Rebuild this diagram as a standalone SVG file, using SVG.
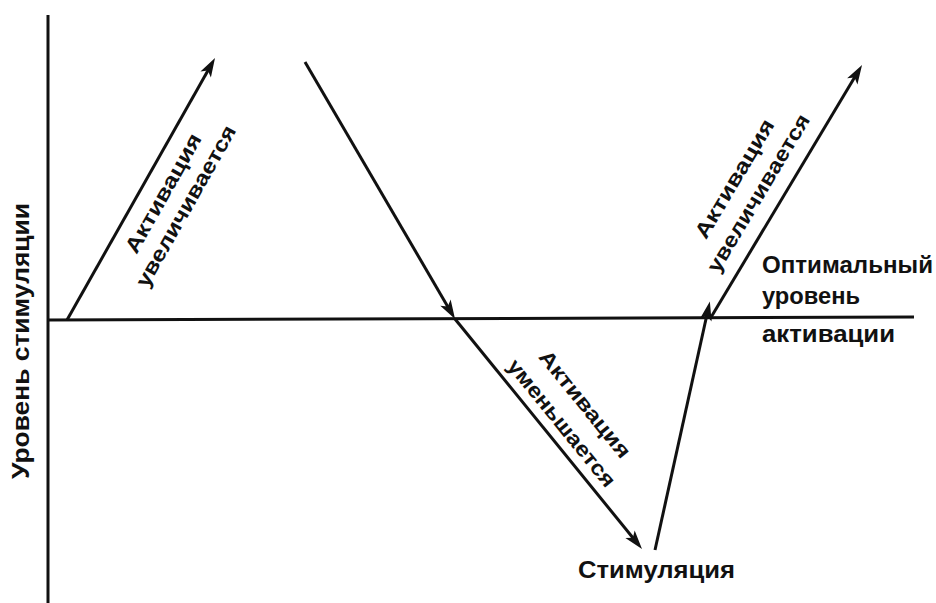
<svg xmlns="http://www.w3.org/2000/svg" width="936" height="603" viewBox="0 0 936 603">
<style>
.ln{stroke:#111;stroke-width:3;fill:none;stroke-linecap:butt}
.ar{marker-end:url(#ah)}
.t{font-family:"Liberation Sans",Arial,sans-serif;font-size:23px;font-weight:bold;fill:#111}
.r{font-size:21px;text-anchor:middle}
</style>
<defs>
<marker id="ah" markerUnits="userSpaceOnUse" markerWidth="30" markerHeight="20" refX="0" refY="0" orient="auto" overflow="visible">
<path d="M10,0 L-9,-6 L-4.5,0 L-9,6 Z" fill="#111"/>
</marker>
</defs>
<rect width="936" height="603" fill="#fff"/>
<g id="connectors">
<line id="axis-y" class="ln" x1="48" y1="15" x2="48" y2="603"/>
<line id="axis-opt" class="ln" x1="48" y1="320" x2="914" y2="317"/>
<line class="ln ar" x1="67" y1="320" x2="210.1" y2="66.7"/>
<line class="ln ar" x1="305" y1="62" x2="450" y2="310.4"/>
<line class="ln ar" x1="455" y1="319" x2="635.7" y2="541.2"/>
<line class="ln ar" x1="655" y1="550" x2="707.7" y2="311.3"/>
<line class="ln ar" x1="710" y1="319" x2="856.9" y2="73.6"/>
</g>
<g id="label-y"><text class="t" transform="translate(29,341) rotate(-90)" text-anchor="middle" font-size="22" textLength="276" lengthAdjust="spacingAndGlyphs">Уровень стимуляции</text></g>
<g id="label-up1" transform="translate(145,183) rotate(-60.5)">
<text class="t r" x="0" y="28" textLength="134" lengthAdjust="spacingAndGlyphs">Активация</text>
<text class="t r" x="0" y="54" textLength="182" lengthAdjust="spacingAndGlyphs">увеличивается</text>
</g>
<g id="label-down" transform="translate(548.4,433.8) rotate(50.9)">
<text class="t r" x="0" y="-40" textLength="132" lengthAdjust="spacingAndGlyphs">Активация</text>
<text class="t r" x="0" y="-10" textLength="158" lengthAdjust="spacingAndGlyphs">уменьшается</text>
</g>
<g id="label-up2" transform="translate(778.3,204.9) rotate(-59.1)">
<text class="t r" x="0" y="-44" textLength="135" lengthAdjust="spacingAndGlyphs">Активация</text>
<text class="t r" x="0" y="-16" textLength="180" lengthAdjust="spacingAndGlyphs">увеличивается</text>
</g>
<g id="label-opt">
<text class="t" x="762" y="273" textLength="171" lengthAdjust="spacingAndGlyphs">Оптимальный</text>
<text class="t" x="762" y="304" textLength="98" lengthAdjust="spacingAndGlyphs">уровень</text>
<text class="t" x="762" y="342" textLength="133" lengthAdjust="spacingAndGlyphs">активации</text>
</g>
<g id="label-stim"><text class="t" x="578" y="578" textLength="157" lengthAdjust="spacingAndGlyphs">Стимуляция</text></g>
</svg>
